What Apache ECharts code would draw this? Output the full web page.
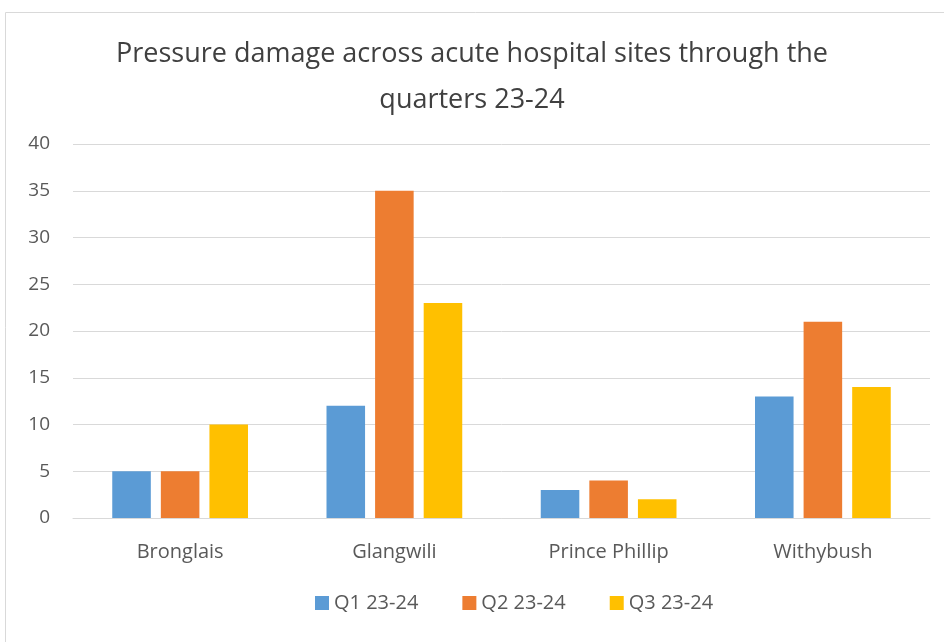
<!DOCTYPE html>
<html lang="en">
<head>
  <meta charset="UTF-8">
  <script src="https://cdn.jsdelivr.net/npm/echarts@6/dist/echarts.min.js"></script>
  <title>Pressure damage</title>
  <style>
    html, body, main { height: 100%; width: 100%; padding: 0; margin: 0; background: #fff; }
  </style>
</head>
<body>
  <main></main>
<script>
  const sites = ['Bronglais', 'Glangwili', 'Prince Phillip', 'Withybush']
  const q1 = [5, 12, 3, 13]
  const q2 = [5, 35, 4, 21]
  const q3 = [10, 23, 2, 14]
  const seriesNames = ['Q1 23-24', 'Q2 23-24', 'Q3 23-24']
  const colors = ['#5b9bd5', '#ed7d31', '#ffc000']

  const font = '"Open Sans", "Noto Sans", sans-serif'
  const bar = (name, data, i) => ({
    type: 'bar',
    name: name,
    data: data,
    barWidth: '18%',
    barGap: '26%',
    itemStyle: { color: colors[i] }
  })

  const option = {
    animation: false,
    graphic: [{
      type: 'rect',
      shape: { x: 5.5, y: 12.5, width: 950, height: 640 },
      style: { fill: 'none', stroke: '#d9d9d9', lineWidth: 1 },
      silent: true
    }],
    title: {
      text: 'Pressure damage across acute hospital sites through the\nquarters 23-24',
      left: 'center',
      top: 26,
      textStyle: { fontFamily: font, fontSize: 27, fontWeight: 'normal', color: '#404040', lineHeight: 46 }
    },
    legend: {
      left: 310,
      bottom: 24,
      itemWidth: 14,
      itemHeight: 14,
      itemGap: 44,
      icon: 'rect',
      textStyle: { fontFamily: font, fontSize: 20, color: '#595959' },
      data: seriesNames
    },
    grid: { left: 73, right: 14, top: 144, bottom: 124 },
    xAxis: {
      type: 'category',
      data: sites,
      axisLine: { lineStyle: { color: '#d9d9d9' } },
      axisTick: { show: false },
      axisLabel: { fontFamily: font, fontSize: 20, color: '#595959', margin: 24 }
    },
    yAxis: {
      type: 'value',
      min: 0,
      max: 40,
      interval: 5,
      axisLine: { show: false },
      axisTick: { show: false },
      splitLine: { lineStyle: { color: '#d9d9d9' } },
      axisLabel: { fontFamily: font, fontSize: 19, color: '#595959', margin: 23 }
    },
    series: [bar(seriesNames[0], q1, 0), bar(seriesNames[1], q2, 1), bar(seriesNames[2], q3, 2)]
  }

  echarts.init(document.getElementsByTagName('main')[0]).setOption(option)
</script>
</body>
</html>
